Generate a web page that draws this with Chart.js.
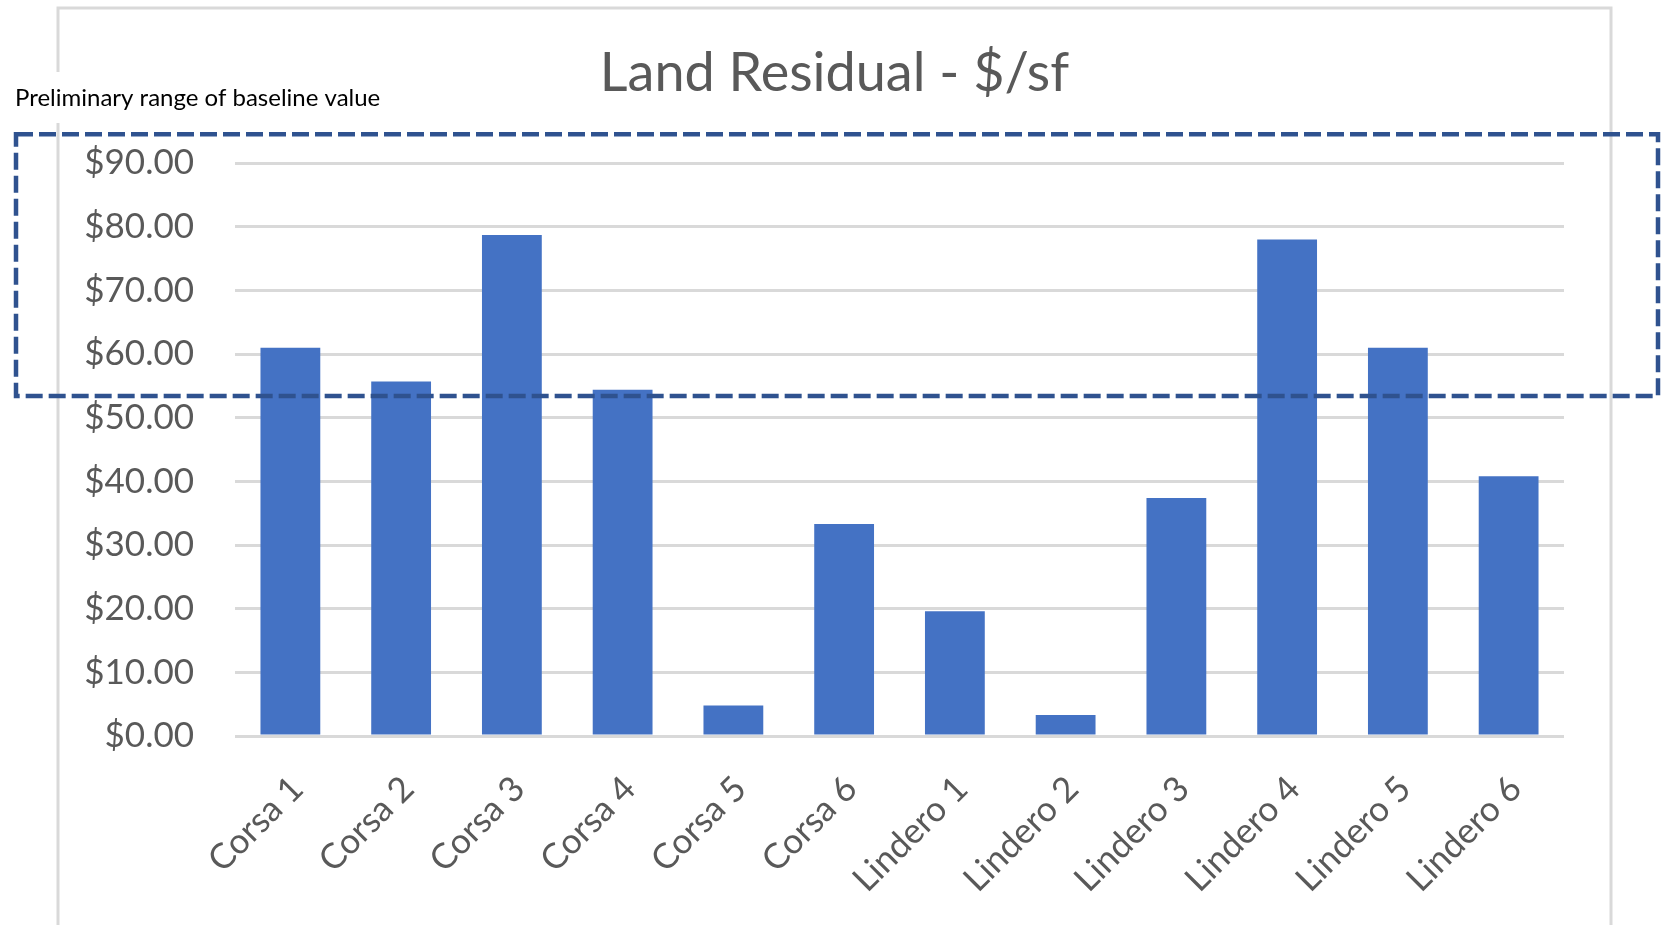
<!DOCTYPE html>
<html>
<head>
<meta charset="utf-8">
<script src="https://cdn.jsdelivr.net/npm/chart.js@4.4.1/dist/chart.umd.min.js"></script>
<style>
  html, body { margin: 0; padding: 0; background: #fff; }
  #box { width: 1661px; height: 925px; }
</style>
</head>
<body>
<div id="box"><canvas id="chart"></canvas></div>
<script>
/* DATA */
var categories = ["Corsa 1", "Corsa 2", "Corsa 3", "Corsa 4", "Corsa 5", "Corsa 6",
                  "Lindero 1", "Lindero 2", "Lindero 3", "Lindero 4", "Lindero 5", "Lindero 6"];
var residual = [61.0, 55.7, 78.7, 54.4, 4.8, 33.3, 19.6, 3.3, 37.4, 78.0, 61.0, 40.8];
var yTicks = [0, 10, 20, 30, 40, 50, 60, 70, 80, 90];
var baselineRange = [53.4, 94.5];
var baselineLabel = "Preliminary range of baseline value";
var chartTitle = "Land Residual - $/sf";

var grey = "#595959";

/* chart frame (excel style border), title, dashed range box */
var decor = {
    id: "decor",
    beforeDraw: (chart) => {
        var ctx = chart.ctx;
        ctx.save();
        ctx.fillStyle = "#fff";
        ctx.fillRect(0, 0, chart.width, chart.height);
        ctx.strokeStyle = "#d9d9d9";
        ctx.lineWidth = 3;
        ctx.beginPath();
        ctx.moveTo(58, chart.height + 5);
        ctx.lineTo(58, 8);
        ctx.lineTo(1611, 8);
        ctx.lineTo(1611, chart.height + 5);
        ctx.stroke();
        // title, centred on the frame
        ctx.fillStyle = grey;
        ctx.font = "54px Lato";
        ctx.textAlign = "center";
        ctx.textBaseline = "middle";
        ctx.fillText(chartTitle, (58 + 1611) / 2, 74);
        ctx.restore();
    },
    afterDraw: (chart) => {
        var ctx = chart.ctx;
        var y = chart.scales.y;
        var top = y.getPixelForValue(baselineRange[1]);
        var bottom = y.getPixelForValue(baselineRange[0]);
        ctx.save();
        // label box
        ctx.fillStyle = "#fff";
        ctx.fillRect(0, 72, 400, 51);
        ctx.fillStyle = "#000";
        ctx.font = "24px Lato";
        ctx.textBaseline = "middle";
        ctx.fillText(baselineLabel, 15, 98);
        // dashed rectangle
        ctx.strokeStyle = "#2F528F";
        ctx.lineWidth = 4.5;
        ctx.setLineDash([17, 6]);
        ctx.strokeRect(16, top, 1658 - 16, bottom - top);
        ctx.restore();
    }
};

var chart = new Chart(document.getElementById("chart"), {
    type: "bar",
    data: {
        labels: categories,
        datasets: [{
            label: "Land Residual",
            data: residual,
            backgroundColor: "#4472C4",
            barPercentage: 0.54,
            categoryPercentage: 1
        }]
    },
    options: {
        responsive: true,
        maintainAspectRatio: false,
        animation: false,
        layout: { padding: { left: 0, right: 97, top: 163, bottom: 0 } },
        plugins: {
            legend: { display: false },
            tooltip: { enabled: false }
        },
        scales: {
            x: {
                grid: { display: false },
                border: { display: false },
                ticks: {
                    color: grey,
                    font: { family: "Lato", size: 35 },
                    minRotation: 45,
                    maxRotation: 45,
                    padding: 24,
                    labelOffset: 7
                },
                afterFit: (s) => { s.height = 189; }
            },
            y: {
                min: 0,
                max: 90,
                grid: { color: "#d9d9d9", lineWidth: 3, drawTicks: false },
                border: { display: false },
                ticks: {
                    color: grey,
                    font: { family: "Lato", size: 35 },
                    padding: 41,
                    callback: (v) => "$" + Number(v).toFixed(2)
                },
                afterBuildTicks: (s) => { s.ticks = yTicks.map(v => ({ value: v })); },
                afterFit: (s) => { s.width = 235; }
            }
        }
    },
    plugins: [decor]
});
</script>
</body>
</html>
